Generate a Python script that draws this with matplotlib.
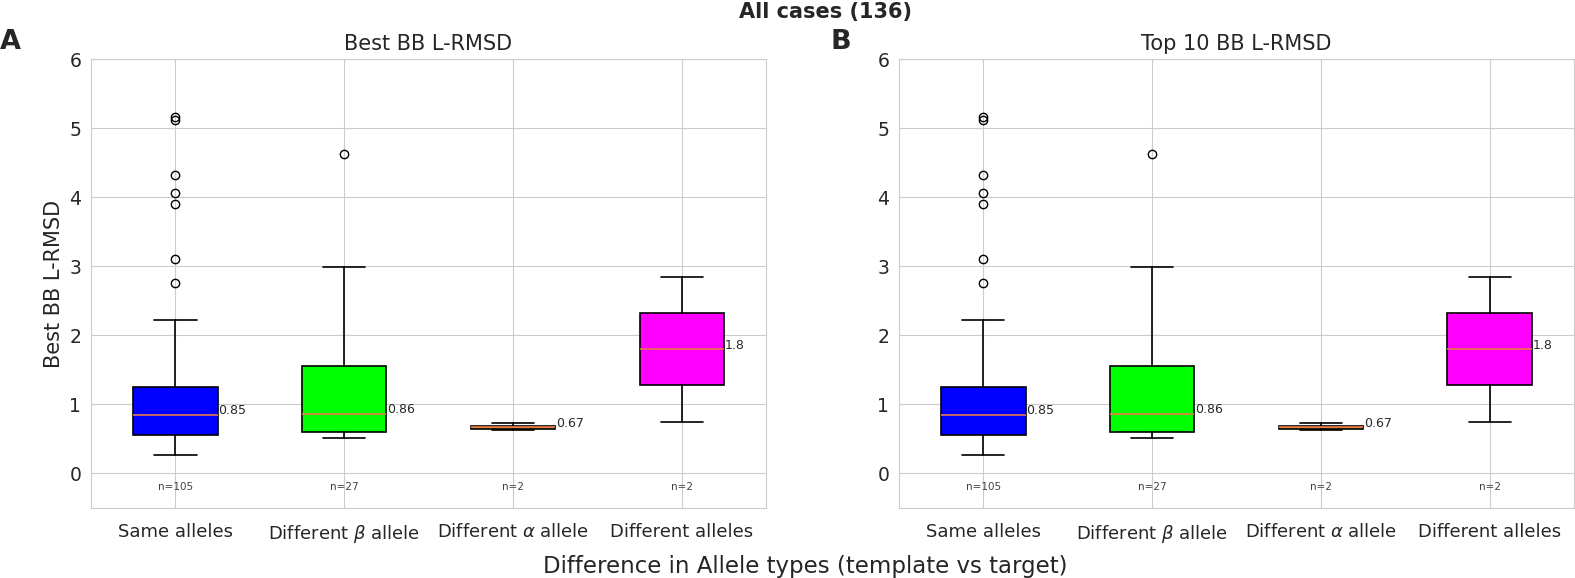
import numpy as np
import matplotlib
matplotlib.use("Agg")
import matplotlib.pyplot as plt
import seaborn as sns

# values
groups = ["Same alleles", r"Different $\beta$ allele", r"Different $\alpha$ allele", "Different alleles"]
counts = [105, 27, 2, 2]
medians = [0.85, 0.86, 0.67, 1.80]
q1 = [0.555, 0.603, 0.64, 1.275]
q3 = [1.246, 1.557, 0.69, 2.33]
whis_lo = [0.265, 0.507, 0.627, 0.748]
whis_hi = [2.217, 2.985, 0.725, 2.85]
fliers = [
    [5.17, 5.12, 4.32, 4.06, 3.90, 3.11, 2.76],
    [4.63],
    [],
    [],
]
box_colors = ["#0000ff", "#00ff00", "#daa520", "#ff00ff"]
panel_titles = ["Best BB L-RMSD", "Top 10 BB L-RMSD"]
panel_tags = ["A", "B"]

sns.set_style("whitegrid")

fig = plt.figure(figsize=(15.75, 5.78), dpi=100)
ax1 = fig.add_axes([0.0578, 0.1211, 0.4286, 0.7763])
ax2 = fig.add_axes([0.5708, 0.1211, 0.4286, 0.7763])
axes = [ax1, ax2]

stats = []
for i in range(len(groups)):
    stats.append(dict(med=medians[i], q1=q1[i], q3=q3[i],
                      whislo=whis_lo[i], whishi=whis_hi[i],
                      fliers=np.array(fliers[i]), label=groups[i]))

pos = np.arange(1, len(groups) + 1)

for ax, title in zip(axes, panel_titles):
    bp = ax.bxp(stats, positions=pos, widths=0.5, patch_artist=True,
                boxprops=dict(edgecolor="black", linewidth=1.2),
                whiskerprops=dict(color="black", linewidth=1.2),
                capprops=dict(color="black", linewidth=1.2),
                medianprops=dict(color="#e8784a", linewidth=1.2),
                flierprops=dict(marker="o", markerfacecolor="none",
                                markeredgecolor="black", markersize=6))
    for patch, c in zip(bp["boxes"], box_colors):
        patch.set_facecolor(c)

    for p, m, n in zip(pos, medians, counts):
        ax.text(p + 0.255, m + 0.01, f"{m:g}", ha="left", va="baseline",
                fontsize=9, color=".15")
        ax.text(p, -0.19, f"n={n}", ha="center", va="center",
                fontsize=7.5, color=".25")

    ax.set_xlim(0.5, 4.5)
    ax.set_ylim(-0.5, 6)
    ax.set_yticks([0, 1, 2, 3, 4, 5, 6])
    ax.set_xticks(pos)
    ax.set_xticklabels(groups, fontsize=13)
    ax.tick_params(axis="x", pad=7)
    ax.tick_params(axis="y", labelsize=13.5)
    ax.set_title(title, fontsize=15, pad=7)

ax1.set_ylabel("Best BB L-RMSD", fontsize=15)

fig.text(0.0, 0.9265, panel_tags[0], fontsize=19.5, fontweight="bold", va="center")
fig.text(0.527, 0.9265, panel_tags[1], fontsize=19.5, fontweight="bold", va="center")
fig.text(0.524, 0.979, "All cases (136)", fontsize=15, fontweight="bold",
         ha="center", va="center")
fig.text(0.511, 0.0087, "Difference in Allele types (template vs target)",
         ha="center", va="baseline", fontsize=16.5)

fig.savefig("out.png", dpi=100)
